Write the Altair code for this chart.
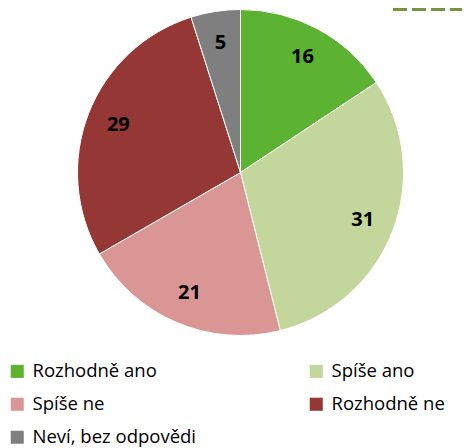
import altair as alt
import pandas as pd

categories = ["Rozhodně ano", "Spíše ano", "Spíše ne", "Rozhodně ne", "Neví, bez odpovědi"]
values = [16, 31, 21, 29, 5]
colors = ["#5BB331", "#C3D69B", "#D99694", "#953735", "#7F7F7F"]

df = pd.DataFrame({"cat": categories, "val": values, "order": list(range(len(values)))})

W, H = 454, 440
cx, cy, R = 232.5, 164.5, 163
FONT = "Open Sans"

color = alt.Color(
    "cat:N",
    scale=alt.Scale(domain=categories, range=colors),
    sort=categories,
    legend=alt.Legend(
        title=None,
        orient="none",
        direction="horizontal",
        legendX=0,
        legendY=354,
        columns=2,
        symbolType="square",
        symbolSize=170,
        symbolStrokeWidth=0,
        labelFontSize=18.5,
        labelFont=FONT,
        labelColor="#000000",
        labelOffset=6,
        rowPadding=14,
        columnPadding=110,
        labelLimit=300,
    ),
)

base = alt.Chart(df).encode(
    theta=alt.Theta("val:Q", stack=True),
    order=alt.Order("order:Q"),
)

pie = base.mark_arc(outerRadius=R, stroke="#FFFFFF", strokeWidth=1).encode(
    color=color, x=alt.value(cx), y=alt.value(cy)
)

labels = base.mark_text(
    radius=131, fontSize=20, fontWeight="bold", font=FONT, color="#000000"
).encode(text="val:Q", x=alt.value(cx), y=alt.value(cy))

line = alt.Chart(df).mark_rule(
    color="#77933C", strokeWidth=4, strokeDash=[14, 5]
).encode(x=alt.value(385), x2=alt.value(462), y=alt.value(1))

chart = alt.layer(pie, labels, line).properties(
    width=W, height=H, autosize=alt.AutoSizeParams(type="none"), padding=0
).configure_view(stroke=None)

chart.save("out.html", embed_options={"renderer": "svg", "actions": False})
